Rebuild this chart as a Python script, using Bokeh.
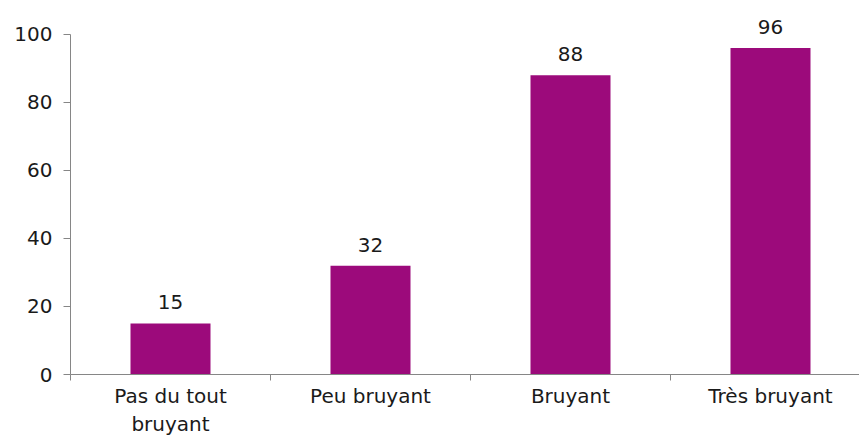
from bokeh.plotting import figure
from bokeh.models import Range1d, FixedTicker, ColumnDataSource
from bokeh.core.properties import value
from bokeh.embed import file_html
from bokeh.resources import INLINE

categories = ["Pas du tout\nbruyant", "Peu bruyant", "Bruyant", "Très bruyant"]
values = [15, 32, 88, 96]
y_ticks = [0, 20, 40, 60, 80, 100]

xs = list(range(len(categories)))
src = ColumnDataSource(dict(x=xs, top=values, label=[str(v) for v in values]))

p = figure(width=859, height=439, output_backend="svg", toolbar_location=None,
           x_range=Range1d(-0.5, 3.445), y_range=Range1d(0, 109.97),
           min_border_left=70, min_border_right=0, min_border_top=0, min_border_bottom=64)
p.outline_line_color = None
p.xgrid.visible = False
p.ygrid.visible = False
p.background_fill_color = "white"

font = "DejaVu Sans"
grey = "#868686"
fs = "20px"

p.vbar(x="x", top="top", width=0.4, source=src, color="#9C0A7B", line_color=None)
p.text(x="x", y="top", text="label", source=src, text_align="center", text_baseline="alphabetic",
       y_offset=-21, text_font_size=fs, text_color="#1a1a1a", text_font=value(font))

p.yaxis.ticker = FixedTicker(ticks=y_ticks)
p.yaxis.bounds = (0, 100)
p.yaxis.axis_line_color = grey
p.yaxis.major_tick_line_color = grey
p.yaxis.major_tick_in = 0
p.yaxis.major_tick_out = 7
p.yaxis.minor_tick_line_color = None
p.yaxis.major_label_text_font = font
p.yaxis.major_label_text_font_size = fs
p.yaxis.major_label_text_color = "#1a1a1a"
p.yaxis.major_label_standoff = 11

p.xaxis.ticker = FixedTicker(ticks=xs, minor_ticks=[-0.5, 0.5, 1.5, 2.5, 3.5])
p.xaxis.major_label_overrides = {i: c for i, c in enumerate(categories)}
p.xaxis.axis_line_color = grey
p.xaxis.major_tick_line_color = None
p.xaxis.minor_tick_line_color = grey
p.xaxis.minor_tick_in = 0
p.xaxis.minor_tick_out = 6
p.xaxis.major_label_text_font = font
p.xaxis.major_label_text_font_size = fs
p.xaxis.major_label_text_color = "#1a1a1a"
p.xaxis.major_label_standoff = 3

open("out.html", "w").write(file_html(p, INLINE))
